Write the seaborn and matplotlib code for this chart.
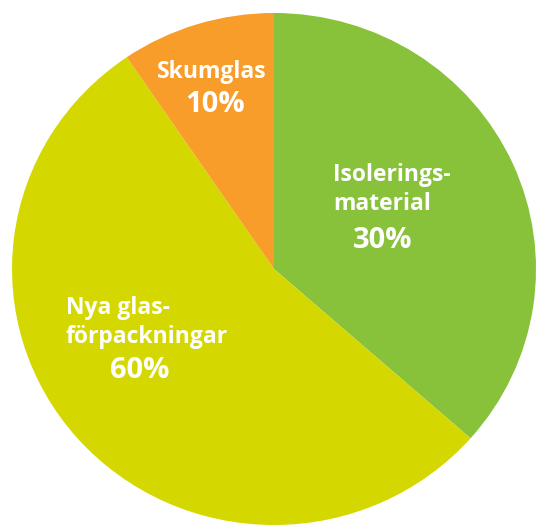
import matplotlib
matplotlib.use("Agg")
import matplotlib.pyplot as plt
import seaborn as sns

# Data (wedge sizes as drawn in the picture, printed shares as labelled)
categories = ["Isolerings-\nmaterial", "Nya glas-\nförpackningar", "Skumglas"]
drawn_share = [36.5, 54.0, 9.5]
printed_share = ["30%", "60%", "10%"]
colors = ["#88c13a", "#d5d800", "#f89c2a"]

sns.set_theme(style="white")
plt.rcParams["font.family"] = ["Open Sans", "DejaVu Sans"]

W, H = 540, 529
fig = plt.figure(figsize=(W / 100, H / 100), dpi=100)
ax = fig.add_axes([0, 0, 1, 1])

# the printed pie is a little wider than tall: stretch y data range
rx, ry = 262, 256
k = rx / ry
cx, cy = 274, (H - 269) * k
ax.pie(drawn_share, colors=colors, startangle=90, counterclock=False,
       center=(cx, cy), radius=rx, wedgeprops=dict(linewidth=0))
ax.set_xlim(0, W)
ax.set_ylim(0, H * k)
ax.set_aspect("auto")
ax.axis("off")

# label positions in pixels from top-left
name_pos = [(333, 189.5, "left"), (66, 322.5, "left"), (212, 72, "center")]
pct_pos = [(383, 241), (140, 371), (215, 105)]

for name, pct, (nx, ny, ha), (px, py) in zip(categories, printed_share, name_pos, pct_pos):
    ax.text(nx / W, 1 - ny / H, name, transform=ax.transAxes, ha=ha, va="center",
            color="white", fontsize=16.5, fontweight="bold", linespacing=1.3)
    ax.text(px / W, 1 - py / H, pct, transform=ax.transAxes, ha="center", va="center",
            color="white", fontsize=21, fontweight="bold")

fig.savefig("out.png", dpi=100, facecolor="white")
